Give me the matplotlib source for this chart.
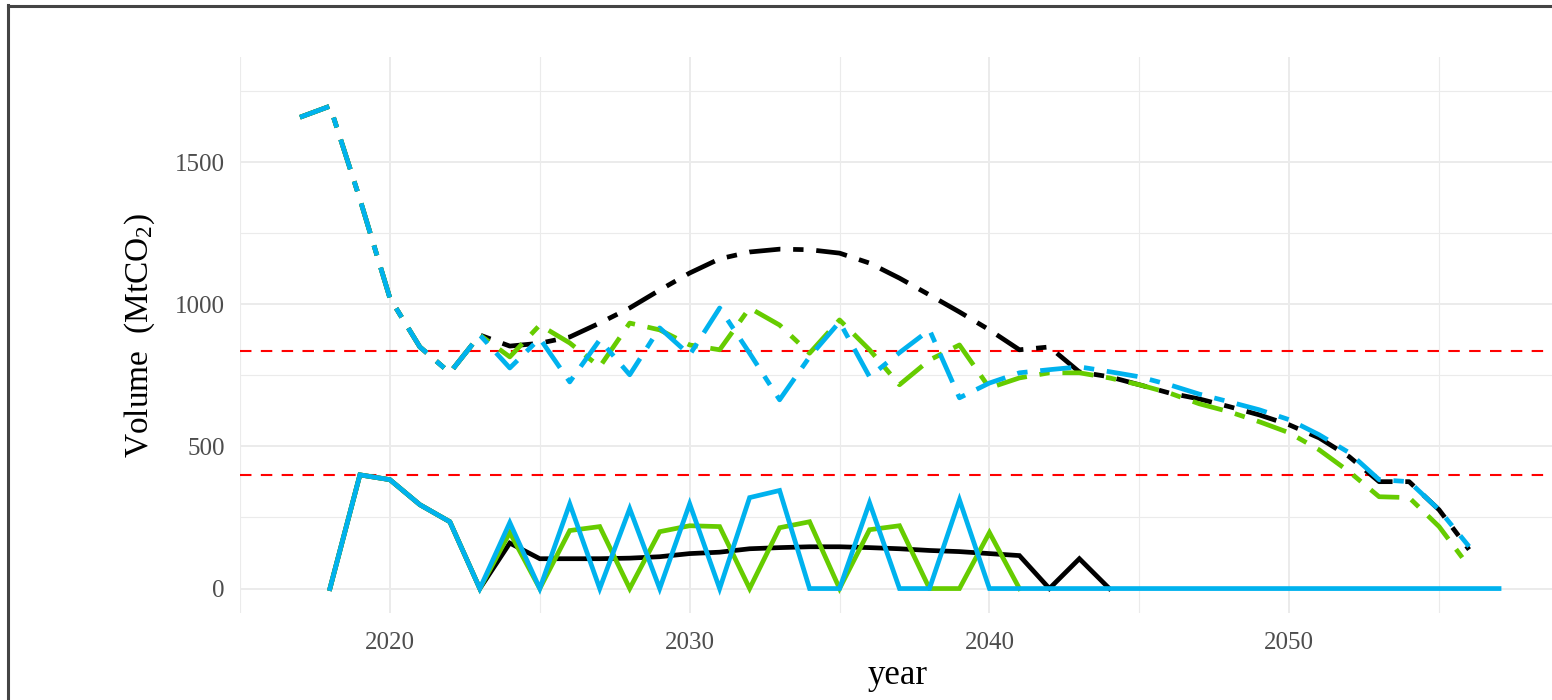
import matplotlib
matplotlib.use('Agg')
import matplotlib.pyplot as plt
from matplotlib.lines import Line2D

# 字体：Times 风格
plt.rcParams['font.family'] = ['Liberation Serif', 'DejaVu Serif']
plt.rcParams['mathtext.fontset'] = 'custom'
plt.rcParams['mathtext.rm'] = 'Liberation Serif'
plt.rcParams['mathtext.default'] = 'regular'

# ---- 数据 ----
years_hist_upper = list(range(2017, 2024))
hist_upper = [1658, 1697, 1370, 1022, 850, 759, 892]

years_proj = list(range(2024, 2057))
black_upper = [853, 863, 885, 934, 987, 1050, 1110, 1160, 1184, 1194, 1192,
               1180, 1145, 1092, 1033, 973, 910, 840, 850, 762, 745, 717, 688,
               667, 640, 611, 576, 530, 464, 376, 376, 277, 137]
green_upper = [815, 927, 864, 780, 934, 910, 857, 840, 987, 927, 828, 945,
               840, 717, 804, 857, 706, 741, 759, 759, 741, 717, 688, 650,
               622, 587, 548, 488, 411, 323, 320, 218, 77]
blue_upper = [776, 880, 727, 875, 752, 917, 822, 987, 828, 664, 815, 938,
              745, 830, 910, 671, 723, 759, 770, 780, 763, 745, 717, 684,
              657, 629, 594, 541, 478, 383, 376, 277, 148]

years_lower = list(range(2018, 2058))
hist_lower = [0, 400, 383, 295, 235, 0]
black_lower = [160, 105, 105, 105, 107, 112, 123, 128, 140, 144, 147, 147,
               144, 140, 134, 130, 123, 116, 0, 105, 0]
green_lower = [197, 0, 204, 218, 0, 200, 221, 218, 0, 214, 235, 0, 207, 221,
               0, 0, 197, 0]
blue_lower = [232, 0, 298, 0, 281, 0, 298, 0, 320, 345, 0, 0, 302, 0, 0, 312,
              0] + [0] * 17

limits = [835, 400]

colors = {'black': '#000000', 'green': '#66cc00', 'blue': '#00b2ee'}

# ---- 画布 ----
W, H = 1552, 700
fig = plt.figure(figsize=(W / 100, H / 100), dpi=100)
fig.patch.set_facecolor('white')
ax = fig.add_axes([240 / W, (H - 613) / H, 1319 / W, 556 / H])
ax.set_facecolor('white')

for v in limits:
    ax.axhline(v, color='red', lw=1.5, linestyle=(0, (5.5, 4.5)), zorder=2)

lw = 3.4
dash = (0, (6.6, 2.7, 2.2, 2.7))
for name, vals in [('black', black_upper), ('green', green_upper), ('blue', blue_upper)]:
    ax.plot(years_hist_upper + years_proj, hist_upper + vals, color=colors[name],
            lw=lw, linestyle=dash, zorder=3)

for name, vals in [('black', black_lower), ('green', green_lower), ('blue', blue_lower)]:
    yrs = years_lower[:len(hist_lower) + len(vals)]
    ax.plot(yrs, hist_lower + vals, color=colors[name], lw=lw,
            solid_joinstyle='miter', zorder=4)

ax.set_xlim(2015, 2059)
ax.set_ylim(-86, 1870)
ax.set_xticks([2020, 2030, 2040, 2050])
ax.set_yticks([0, 500, 1000, 1500])
ax.set_xticks([2015, 2025, 2035, 2045, 2055], minor=True)
ax.set_yticks([250, 750, 1250, 1750], minor=True)
ax.grid(which='major', color='#ebebeb', lw=1.4, zorder=0)
ax.grid(which='minor', color='#ebebeb', lw=0.8, zorder=0)
ax.set_axisbelow(True)
for s in ax.spines.values():
    s.set_visible(False)
ax.tick_params(which='both', length=0)
ax.tick_params(axis='x', pad=14, labelsize=18, labelcolor='#4d4d4d')
ax.tick_params(axis='y', pad=11, labelsize=18, labelcolor='#4d4d4d')

fig.text(898 / W, 1 - 675 / H, 'year', ha='center', va='center', fontsize=25)
fig.text(140 / W, 1 - 335 / H, 'Volume  (MtCO$_2$)', ha='center', va='center',
         rotation=90, fontsize=24)

# 外框（左、上）
fig.add_artist(Line2D([8 / W, 8 / W], [0, 1 - 5 / H], color='#444444', lw=2.2))
fig.add_artist(Line2D([8 / W, 1], [1 - 6 / H, 1 - 6 / H], color='#444444', lw=2.2))

fig.savefig('out.png', dpi=100)
